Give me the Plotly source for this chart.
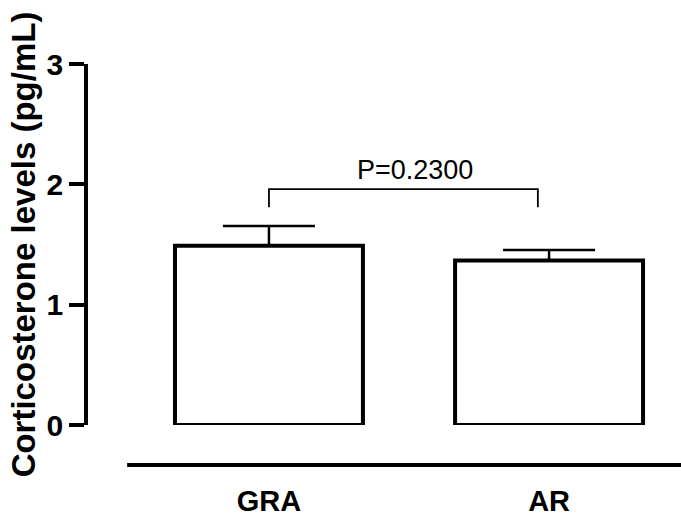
import plotly.graph_objects as go

categories = ["GRA", "AR"]
means = [1.49, 1.367]
sems = [0.164, 0.087]
y_ticks = [0, 1, 2, 3]
bracket_x = [0, 0, 0.96, 0.96]
bracket_y = [1.81, 1.96, 1.96, 1.81]
p_label = "P=0.2300"
y_title = "Corticosterone levels (pg/mL)"

W, H = 681, 516
FONT = "Liberation Sans, Arial, sans-serif"
positions = list(range(len(categories)))

fig = go.Figure()
fig.add_trace(go.Bar(
    x=positions, y=means, width=0.671,
    marker=dict(color="white", line=dict(color="black", width=4)),
    error_y=dict(type="data", symmetric=False, array=sems, arrayminus=[0] * len(sems),
                 color="black", thickness=2.5, width=46),
    showlegend=False,
))
fig.add_trace(go.Scatter(
    x=bracket_x, y=bracket_y, mode="lines",
    line=dict(color="black", width=1.8), showlegend=False, hoverinfo="skip",
))
fig.add_annotation(
    x=(bracket_x[0] + bracket_x[-1]) / 2 + 0.04, y=bracket_y[1], yshift=2,
    text=p_label, showarrow=False, yanchor="bottom",
    font=dict(family=FONT, size=27, color="black"),
)
# detached x-axis baseline
fig.add_shape(type="line", xref="paper", yref="paper",
              x0=0.066, x1=1.0, y0=-0.111, y1=-0.111,
              line=dict(color="black", width=4))

fig.update_layout(
    width=W, height=H,
    margin=dict(l=88, r=0, t=64, b=91, autoexpand=False),
    plot_bgcolor="white", paper_bgcolor="white",
    font=dict(family=FONT, color="black"),
    xaxis=dict(
        range=[-0.646, 1.471], tickmode="array", tickvals=positions, ticktext=categories,
        showline=False, showgrid=False, zeroline=False, ticks="",
        tickfont=dict(family=FONT, size=29, color="black", weight="bold"),
        ticklabelstandoff=56,
    ),
    yaxis=dict(
        range=[0, 3], tickmode="array", tickvals=y_ticks,
        ticktext=[str(t) for t in y_ticks],
        showline=True, linecolor="black", linewidth=3.5,
        ticks="outside", ticklen=15, tickwidth=3.5, tickcolor="black",
        showgrid=False, zeroline=False,
        tickfont=dict(family=FONT, size=30, color="black", weight="bold"),
        title=dict(text=y_title, font=dict(family=FONT, size=33, color="black", weight="bold"),
                   standoff=2),
        automargin=False,
    ),
)
fig.write_html("out.html")
